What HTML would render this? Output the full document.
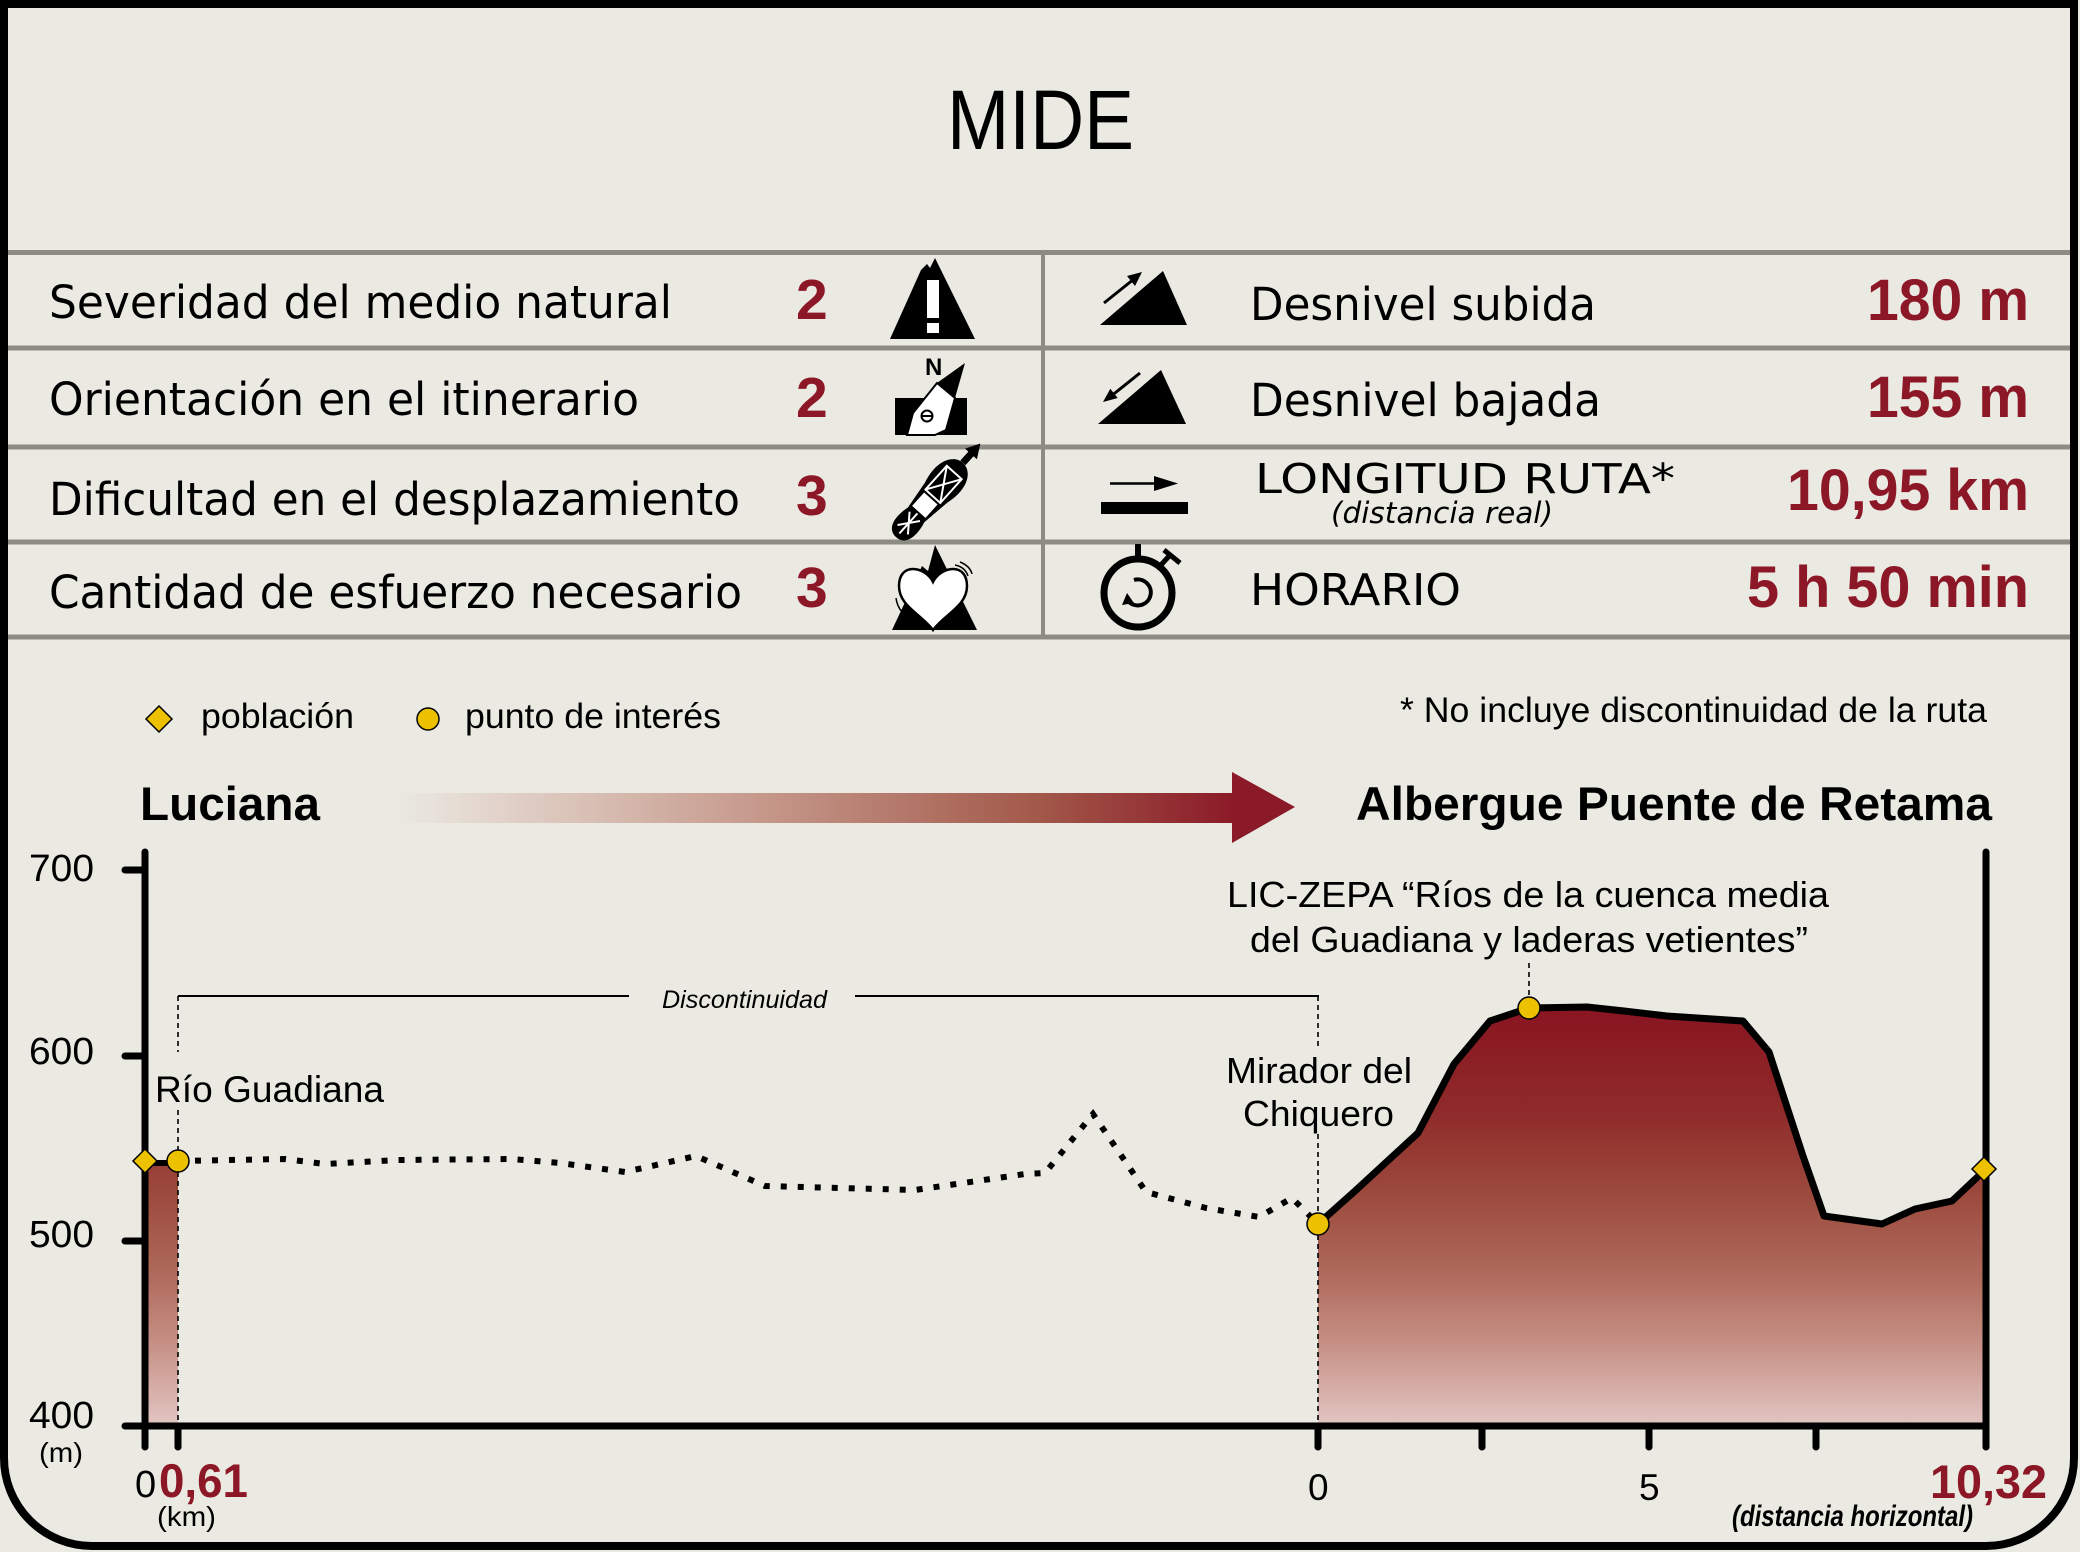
<!DOCTYPE html>
<html>
<head>
<meta charset="utf-8">
<style>
  html, body { margin:0; padding:0; background:#EAE9E2; }
  svg { display:block; }
</style>
</head>
<body>
<svg width="2080" height="1552" viewBox="0 0 2080 1552" xmlns="http://www.w3.org/2000/svg">
  <defs>
    <linearGradient id="prof" gradientUnits="userSpaceOnUse" x1="0" y1="1005" x2="0" y2="1426">
      <stop offset="0" stop-color="#891420"/>
      <stop offset="0.25" stop-color="#8F2A2A"/>
      <stop offset="0.45" stop-color="#9C4A3D"/>
      <stop offset="0.65" stop-color="#B06C5E"/>
      <stop offset="0.82" stop-color="#C89489"/>
      <stop offset="1" stop-color="#E2C6C4"/>
    </linearGradient>
    <linearGradient id="arr" gradientUnits="userSpaceOnUse" x1="398" y1="0" x2="1232" y2="0">
      <stop offset="0" stop-color="#EAE9E2"/>
      <stop offset="0.12" stop-color="#E2D3CA"/>
      <stop offset="0.4" stop-color="#C99F92"/>
      <stop offset="0.76" stop-color="#A35A4B"/>
      <stop offset="1" stop-color="#8B1B28"/>
    </linearGradient>
  </defs>

  <!-- frame -->
  <path d="M4,4 H2074 V1458 A88 88 0 0 1 1986,1546 H92 A88 88 0 0 1 4,1458 Z" fill="#EAE9E2" stroke="#000" stroke-width="8"/>

  <!-- title -->
  <text x="947" y="149" font-family="Liberation Sans, sans-serif" font-size="84" textLength="187" lengthAdjust="spacingAndGlyphs" fill="#000">MIDE</text>

  <!-- table lines -->
  <g fill="#8C8C84">
    <rect x="8" y="250" width="2062" height="5"/>
    <rect x="8" y="345.5" width="2062" height="5"/>
    <rect x="8" y="444.5" width="2062" height="5"/>
    <rect x="8" y="539.5" width="2062" height="5"/>
    <rect x="8" y="634.5" width="2062" height="5"/>
    <rect x="1041" y="252" width="4" height="385"/>
  </g>

  <!-- left labels -->
  <g font-family="DejaVu Sans, sans-serif" font-size="45" fill="#000">
    <text x="49" y="318" textLength="623" lengthAdjust="spacingAndGlyphs">Severidad del medio natural</text>
    <text x="49" y="415" textLength="590" lengthAdjust="spacingAndGlyphs">Orientación en el itinerario</text>
    <text x="49" y="515" textLength="691" lengthAdjust="spacingAndGlyphs">Dificultad en el desplazamiento</text>
    <text x="49" y="608" textLength="693" lengthAdjust="spacingAndGlyphs">Cantidad de esfuerzo necesario</text>
  </g>
  <g font-family="Liberation Sans, sans-serif" font-weight="bold" font-size="57" fill="#8C1726">
    <text x="796" y="319">2</text>
    <text x="796" y="417">2</text>
    <text x="796" y="515">3</text>
    <text x="796" y="607">3</text>
  </g>

  <!-- icon row1 left: warning mountain -->
  <polygon points="890,339 921,270 927,264 930,268 935,258 975,339" fill="#000"/>
  <rect x="927" y="280" width="12" height="38" fill="#fff"/>
  <rect x="927" y="323" width="12" height="10" fill="#fff"/>

  <!-- icon row2 left: compass -->
  <text x="925" y="375" font-family="Liberation Sans, sans-serif" font-weight="bold" font-size="24" fill="#000">N</text>
  <rect x="895" y="398" width="72" height="37" fill="#000"/>
  <polygon points="907,435 913,413 937,383 955,398 946,430 935,435" fill="#fff" stroke="#000" stroke-width="2"/>
  <polygon points="937,383 965,363 955,398" fill="#000"/>
  <circle cx="927" cy="416" r="5.5" fill="#fff" stroke="#000" stroke-width="2"/>
  <line x1="922" y1="416" x2="932" y2="416" stroke="#000" stroke-width="2"/>

  <!-- icon row3 left: shoe -->
  <g transform="translate(929.5,500) rotate(-48)">
    <path d="M-50,0 C-50,-13 -35,-15 -20,-11 L10,-15 C35,-22 50,-12 50,0 C50,12 35,22 10,15 L-20,11 C-35,15 -50,13 -50,0 Z" fill="#000"/>
    <g stroke="#fff" stroke-width="2" fill="none">
      <rect x="5" y="-10" width="32" height="20"/>
      <line x1="5" y1="-10" x2="37" y2="10"/>
      <line x1="5" y1="10" x2="37" y2="-10"/>
      <line x1="-40" y1="-7" x2="-22" y2="7"/>
      <line x1="-40" y1="7" x2="-22" y2="-7"/>
      <line x1="-45" y1="0" x2="-18" y2="0"/>
    </g>
    <rect x="-16" y="-9" width="18" height="18" fill="#fff"/>
    <line x1="50" y1="0" x2="64" y2="0" stroke="#000" stroke-width="7"/>
    <polygon points="62,-8 76,0 62,8" fill="#000"/>
  </g>

  <!-- icon row4 left: heart mountain -->
  <polygon points="892,630 922,566 928,571 935,545 977,630" fill="#000"/>
  <path d="M933,582 C925,566 899,562 899,586 C899,606 921,614 933,630 C945,614 967,606 967,586 C967,562 941,566 933,582 Z" fill="#fff" stroke="#000" stroke-width="2.5"/>
  <path d="M955,565 Q965,567 968,576" fill="none" stroke="#000" stroke-width="1.5"/>
  <path d="M960,562 Q970,566 972,574" fill="none" stroke="#000" stroke-width="1.5"/>
  <path d="M896,598 Q897,606 902,612" fill="none" stroke="#000" stroke-width="1.5"/>

  <!-- icon row1 right: ascent -->
  <polygon points="1100,325 1163,271 1187,325" fill="#000"/>
  <line x1="1104" y1="303" x2="1134" y2="279" stroke="#000" stroke-width="3"/>
  <polygon points="1142,272 1135,286 1127,276" fill="#000"/>

  <!-- icon row2 right: descent -->
  <polygon points="1098,424 1161,370 1186,424" fill="#000"/>
  <line x1="1140" y1="373" x2="1110" y2="397" stroke="#000" stroke-width="3"/>
  <polygon points="1103,402 1117.7,398 1110.3,388.7" fill="#000"/>

  <!-- icon row3 right: length -->
  <line x1="1110" y1="483.5" x2="1156" y2="483.5" stroke="#000" stroke-width="2.5"/>
  <polygon points="1154,476 1178,483.5 1154,491" fill="#000"/>
  <rect x="1101" y="502" width="87" height="12" fill="#000"/>

  <!-- icon row4 right: stopwatch -->
  <circle cx="1138" cy="593" r="34" fill="none" stroke="#000" stroke-width="7"/>
  <rect x="1135" y="544" width="6" height="16" fill="#000"/>
  <line x1="1160" y1="566" x2="1171" y2="554" stroke="#000" stroke-width="5"/>
  <line x1="1164" y1="550" x2="1180" y2="563" stroke="#000" stroke-width="5"/>
  <path d="M1134,580 A13 13 0 1 1 1129,602" fill="none" stroke="#000" stroke-width="4"/>
  <polygon points="1122,605 1127,593 1134,603" fill="#000"/>

  <!-- right labels -->
  <g font-family="DejaVu Sans, sans-serif" fill="#000">
    <text x="1250" y="320" font-size="45" textLength="346" lengthAdjust="spacingAndGlyphs">Desnivel subida</text>
    <text x="1250" y="416" font-size="45" textLength="351" lengthAdjust="spacingAndGlyphs">Desnivel bajada</text>
    <text x="1255" y="493" font-size="41" textLength="420" lengthAdjust="spacingAndGlyphs">LONGITUD RUTA*</text>
    <text x="1331" y="523" font-size="29" font-style="italic" textLength="222" lengthAdjust="spacingAndGlyphs">(distancia real)</text>
    <text x="1250" y="605" font-size="44" textLength="211" lengthAdjust="spacingAndGlyphs">HORARIO</text>
  </g>
  <g font-family="Liberation Sans, sans-serif" font-weight="bold" font-size="58" fill="#8C1726">
    <text x="1867" y="320" textLength="162" lengthAdjust="spacingAndGlyphs">180 m</text>
    <text x="1867" y="417" textLength="162" lengthAdjust="spacingAndGlyphs">155 m</text>
    <text x="1787" y="510" textLength="242" lengthAdjust="spacingAndGlyphs">10,95 km</text>
    <text x="1747" y="607" textLength="282" lengthAdjust="spacingAndGlyphs">5 h 50 min</text>
  </g>

  <!-- legend -->
  <polygon points="159,706 172,719 159,732 146,719" fill="#EBC100" stroke="#000" stroke-width="1.5"/>
  <circle cx="428" cy="719" r="11" fill="#EBC100" stroke="#000" stroke-width="1.5"/>
  <g font-family="Liberation Sans, sans-serif" font-size="35" fill="#000">
    <text x="201" y="728" textLength="153" lengthAdjust="spacingAndGlyphs">población</text>
    <text x="465" y="728" textLength="256" lengthAdjust="spacingAndGlyphs">punto de interés</text>
    <text x="1400" y="722" textLength="587" lengthAdjust="spacingAndGlyphs">* No incluye discontinuidad de la ruta</text>
  </g>

  <!-- start / end + arrow -->
  <g font-family="Liberation Sans, sans-serif" font-weight="bold" font-size="47" fill="#000">
    <text x="140" y="820" textLength="180" lengthAdjust="spacingAndGlyphs">Luciana</text>
    <text x="1356" y="820" textLength="636" lengthAdjust="spacingAndGlyphs">Albergue Puente de Retama</text>
  </g>
  <rect x="398" y="793" width="836" height="30" fill="url(#arr)"/>
  <polygon points="1232,772 1295,807 1232,843" fill="#8B1A28"/>

  <!-- profile fills -->
  <rect x="148" y="1163" width="30" height="263" fill="url(#prof)"/>
  <polygon points="1318,1224 1355,1191 1418,1133 1454,1064 1490,1021 1529,1008 1587,1007 1624,1011 1667,1016 1743,1021 1769,1052 1803,1156 1824,1216 1882,1224 1915,1209 1952,1201 1986,1169 1986,1426 1318,1426" fill="url(#prof)"/>

  <!-- discontinuity bracket -->
  <g stroke="#000" stroke-width="2" fill="none">
    <line x1="178" y1="996" x2="629" y2="996"/>
    <line x1="855" y1="996" x2="1319" y2="996"/>
  </g>
  <g stroke="#000" stroke-width="1.6" stroke-dasharray="5 4" fill="none">
    <line x1="178" y1="996" x2="178" y2="1052"/>
    <line x1="178" y1="1110" x2="178" y2="1150"/>
    <line x1="178" y1="1172" x2="178" y2="1426"/>
    <line x1="1318" y1="996" x2="1318" y2="1048"/>
    <line x1="1318" y1="1134" x2="1318" y2="1213"/>
    <line x1="1318" y1="1235" x2="1318" y2="1426"/>
    <line x1="1529" y1="963" x2="1529" y2="997"/>
  </g>
  <text x="662" y="1008" font-family="Liberation Sans, sans-serif" font-style="italic" font-size="25" textLength="165" lengthAdjust="spacingAndGlyphs" fill="#000">Discontinuidad</text>

  <!-- dotted discontinuous profile -->
  <polyline points="178,1161 285,1159 325,1164 398,1160 511,1159 560,1163 625,1172 696,1156 765,1186 915,1190 1025,1174 1045,1173 1093,1114 1146,1192 1206,1208 1259,1217 1292,1198 1318,1224" fill="none" stroke="#000" stroke-width="6" stroke-dasharray="6 11"/>

  <!-- solid profile lines -->
  <line x1="145" y1="1163" x2="178" y2="1163" stroke="#000" stroke-width="6"/>
  <polyline points="1318,1224 1355,1191 1418,1133 1454,1064 1490,1021 1529,1008 1587,1007 1624,1011 1667,1016 1743,1021 1769,1052 1803,1156 1824,1216 1882,1224 1915,1209 1952,1201 1986,1169" fill="none" stroke="#000" stroke-width="7" stroke-linejoin="round"/>

  <!-- axes -->
  <g stroke="#000" stroke-width="7" stroke-linecap="round" fill="none">
    <line x1="145" y1="852" x2="145" y2="1447"/>
    <line x1="1986" y1="852" x2="1986" y2="1447"/>
    <line x1="125" y1="1426" x2="1986" y2="1426"/>
    <line x1="125" y1="870" x2="145" y2="870"/>
    <line x1="125" y1="1056" x2="145" y2="1056"/>
    <line x1="125" y1="1241" x2="145" y2="1241"/>
    <line x1="178" y1="1426" x2="178" y2="1447"/>
    <line x1="1318" y1="1426" x2="1318" y2="1447"/>
    <line x1="1482" y1="1426" x2="1482" y2="1447"/>
    <line x1="1649" y1="1426" x2="1649" y2="1447"/>
    <line x1="1816" y1="1426" x2="1816" y2="1447"/>
  </g>

  <!-- markers -->
  <g fill="#EBC100" stroke="#000" stroke-width="1.5">
    <polygon points="145,1149 157,1161 145,1173 133,1161"/>
    <polygon points="1984,1157 1996,1169 1984,1181 1972,1169"/>
    <circle cx="178" cy="1161" r="11"/>
    <circle cx="1318" cy="1224" r="11"/>
    <circle cx="1529" cy="1008" r="11"/>
  </g>

  <!-- axis labels -->
  <g font-family="Liberation Sans, sans-serif" fill="#000">
    <text x="29" y="881" font-size="38" textLength="65" lengthAdjust="spacingAndGlyphs">700</text>
    <text x="29" y="1064" font-size="38" textLength="65" lengthAdjust="spacingAndGlyphs">600</text>
    <text x="29" y="1247" font-size="38" textLength="65" lengthAdjust="spacingAndGlyphs">500</text>
    <text x="29" y="1428" font-size="38" textLength="65" lengthAdjust="spacingAndGlyphs">400</text>
    <text x="39" y="1462" font-size="28" textLength="44" lengthAdjust="spacingAndGlyphs">(m)</text>
    <text x="135" y="1497" font-size="38">0</text>
    <text x="157" y="1526" font-size="28" textLength="59" lengthAdjust="spacingAndGlyphs">(km)</text>
    <text x="1308" y="1500" font-size="37">0</text>
    <text x="1639" y="1500" font-size="37">5</text>
    <text x="1732" y="1526" font-size="30" font-weight="bold" font-style="italic" textLength="241" lengthAdjust="spacingAndGlyphs">(distancia horizontal)</text>
  </g>
  <g font-family="Liberation Sans, sans-serif" font-weight="bold" font-size="47" fill="#8C1726">
    <text x="159" y="1497" textLength="89" lengthAdjust="spacingAndGlyphs">0,61</text>
    <text x="1930" y="1498" textLength="117" lengthAdjust="spacingAndGlyphs">10,32</text>
  </g>

  <!-- annotations -->
  <g font-family="Liberation Sans, sans-serif" font-size="36" fill="#000">
    <text x="155" y="1102" font-size="37" textLength="229" lengthAdjust="spacingAndGlyphs">Río Guadiana</text>
    <text x="1227" y="907" textLength="602" lengthAdjust="spacingAndGlyphs">LIC-ZEPA “Ríos de la cuenca media</text>
    <text x="1250" y="952" textLength="558" lengthAdjust="spacingAndGlyphs">del Guadiana y laderas vetientes”</text>
    <text x="1226" y="1083" textLength="186" lengthAdjust="spacingAndGlyphs">Mirador del</text>
    <text x="1243" y="1126" textLength="151" lengthAdjust="spacingAndGlyphs">Chiquero</text>
  </g>
</svg>
</body>
</html>
